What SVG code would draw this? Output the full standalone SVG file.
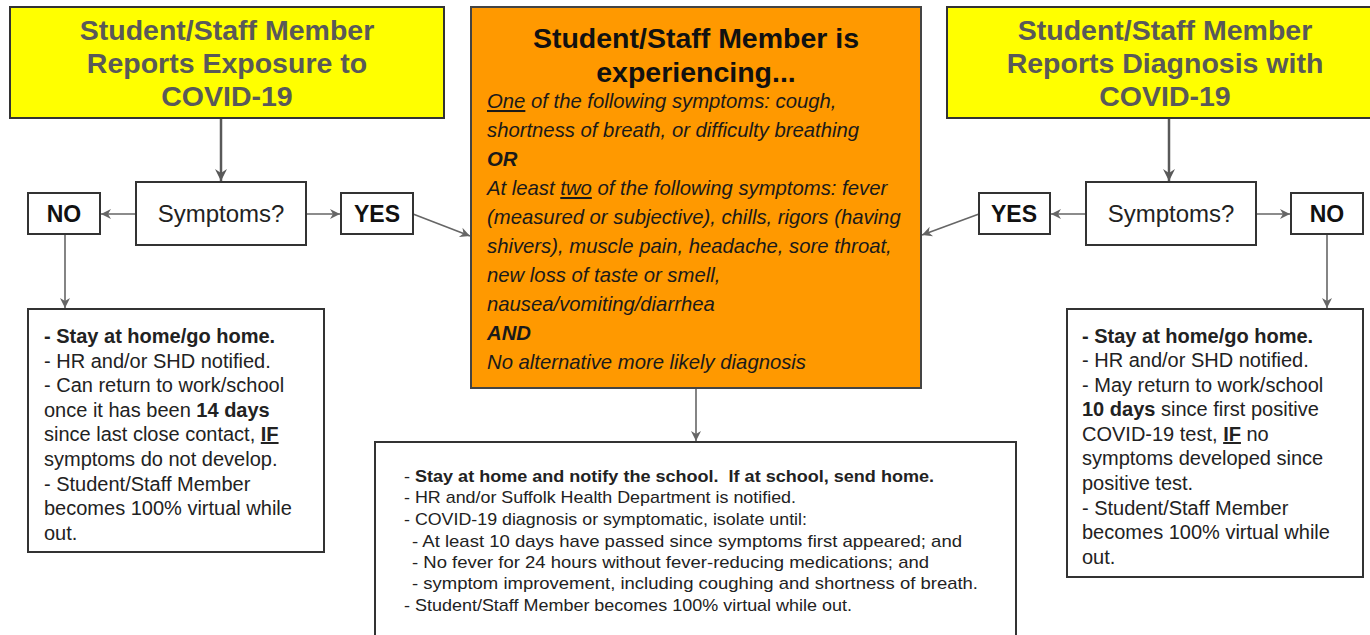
<svg xmlns="http://www.w3.org/2000/svg" width="1370" height="635" viewBox="0 0 1370 635">
<style>
.box{fill:#ffffff;stroke:#333333;stroke-width:2}
.yel{fill:#ffff00;stroke:#333333;stroke-width:2}
.org{fill:#ff9900;stroke:#444444;stroke-width:2}
.ttl{font-family:"Liberation Sans",Arial,sans-serif;font-weight:bold;font-size:28.5px;fill:#595959;text-anchor:middle}
.otl{font-family:"Liberation Sans",Arial,sans-serif;font-weight:bold;font-size:28.5px;fill:#111111;text-anchor:middle}
.oit{font-family:"Liberation Sans",Arial,sans-serif;font-style:italic;font-size:20.3px;fill:#1a1a1a}
.q{font-family:"Liberation Sans",Arial,sans-serif;font-size:24px;fill:#222222;text-anchor:middle}
.yn{font-family:"Liberation Sans",Arial,sans-serif;font-weight:bold;font-size:23px;fill:#111111;text-anchor:middle}
.bt{font-family:"Liberation Sans",Arial,sans-serif;font-size:20px;fill:#222222}
.st{font-family:"Liberation Sans",Arial,sans-serif;font-size:17px;fill:#222222}
.b{font-weight:bold}
.u{text-decoration:underline}
.c1{fill:none;stroke:#595959;stroke-width:2.5}
.c2{fill:none;stroke:#666666;stroke-width:1.6}
</style>
<defs>
<marker id="ah" markerUnits="userSpaceOnUse" markerWidth="14" markerHeight="14" viewBox="0 0 14 14" refX="13" refY="7" orient="auto">
<path d="M1,1 L13,7 L1,13 L5,7 z" fill="#595959"/>
</marker>
<marker id="as" markerUnits="userSpaceOnUse" markerWidth="12" markerHeight="12" viewBox="0 0 12 12" refX="11" refY="6" orient="auto">
<path d="M1,1 L11,6 L1,11 L4,6 z" fill="#666666"/>
</marker>
</defs>
<rect width="1370" height="635" fill="#ffffff"/>

<g id="connectors">
<line class="c1" x1="221" y1="119" x2="221" y2="181" marker-end="url(#ah)"/>
<line class="c1" x1="1169" y1="119" x2="1169" y2="181" marker-end="url(#ah)"/>
<line class="c2" x1="136" y1="214" x2="101" y2="214" marker-end="url(#as)"/>
<line class="c2" x1="306" y1="214" x2="340" y2="214" marker-end="url(#as)"/>
<line class="c2" x1="413" y1="214" x2="470" y2="236" marker-end="url(#as)"/>
<line class="c2" x1="1086" y1="214" x2="1051" y2="214" marker-end="url(#as)"/>
<line class="c2" x1="1256" y1="214" x2="1290" y2="214" marker-end="url(#as)"/>
<line class="c2" x1="979" y1="214" x2="922" y2="235" marker-end="url(#as)"/>
<line class="c2" x1="65" y1="235" x2="65" y2="308" marker-end="url(#as)"/>
<line class="c2" x1="1327" y1="235" x2="1327" y2="308" marker-end="url(#as)"/>
<line class="c2" x1="696" y1="389" x2="696" y2="441" marker-end="url(#as)"/>
</g>

<g id="exposure">
<rect class="yel" x="10" y="7" width="434" height="111"/>
<text class="ttl" x="227" y="40">Student/Staff Member</text>
<text class="ttl" x="227" y="73">Reports Exposure to</text>
<text class="ttl" x="227" y="106">COVID-19</text>
</g>

<g id="diagnosis">
<rect class="yel" x="947" y="7" width="440" height="111"/>
<text class="ttl" x="1165" y="40">Student/Staff Member</text>
<text class="ttl" x="1165" y="73">Reports Diagnosis with</text>
<text class="ttl" x="1165" y="106">COVID-19</text>
</g>

<g id="symptoms-left">
<rect class="box" x="136" y="182" width="170" height="63"/>
<text class="q" x="221" y="222">Symptoms?</text>
</g>
<g id="no-left">
<rect class="box" x="28" y="193" width="72" height="41"/>
<text class="yn" x="64" y="222">NO</text>
</g>
<g id="yes-left">
<rect class="box" x="341" y="193" width="72" height="41"/>
<text class="yn" x="377" y="222">YES</text>
</g>

<g id="symptoms-right">
<rect class="box" x="1086" y="182" width="170" height="63"/>
<text class="q" x="1171" y="222">Symptoms?</text>
</g>
<g id="yes-right">
<rect class="box" x="979" y="193" width="71" height="41"/>
<text class="yn" x="1014" y="222">YES</text>
</g>
<g id="no-right">
<rect class="box" x="1291" y="193" width="72" height="41"/>
<text class="yn" x="1327" y="222">NO</text>
</g>

<g id="experiencing">
<rect class="org" x="471" y="7" width="450" height="381"/>
<text class="otl" x="696" y="48">Student/Staff Member is</text>
<text class="otl" x="696" y="82">experiencing...</text>
<text class="oit" x="487" y="108"><tspan class="u">One</tspan> of the following symptoms: cough,</text>
<text class="oit" x="487" y="137">shortness of breath, or difficulty breathing</text>
<text class="oit b" x="487" y="166">OR</text>
<text class="oit" x="487" y="195">At least <tspan class="u">two</tspan> of the following symptoms: fever</text>
<text class="oit" x="487" y="224">(measured or subjective), chills, rigors (having</text>
<text class="oit" x="487" y="253">shivers), muscle pain, headache, sore throat,</text>
<text class="oit" x="487" y="282">new loss of taste or smell,</text>
<text class="oit" x="487" y="311">nausea/vomiting/diarrhea</text>
<text class="oit b" x="487" y="340">AND</text>
<text class="oit" x="487" y="369">No alternative more likely diagnosis</text>
</g>

<g id="exposure-no-action">
<rect class="box" x="28" y="309" width="296" height="243"/>
<text class="bt b" x="44" y="343">- Stay at home/go home.</text>
<text class="bt" x="44" y="368">- HR and/or SHD notified.</text>
<text class="bt" x="44" y="392">- Can return to work/school</text>
<text class="bt" x="44" y="417">once it has been <tspan class="b">14 days</tspan></text>
<text class="bt" x="44" y="441">since last close contact, <tspan class="b u">IF</tspan></text>
<text class="bt" x="44" y="466">symptoms do not develop.</text>
<text class="bt" x="44" y="491">- Student/Staff Member</text>
<text class="bt" x="44" y="515">becomes 100% virtual while</text>
<text class="bt" x="44" y="540">out.</text>
</g>

<g id="diagnosis-no-action">
<rect class="box" x="1067" y="309" width="296" height="268"/>
<text class="bt b" x="1082" y="343">- Stay at home/go home.</text>
<text class="bt" x="1082" y="367">- HR and/or SHD notified.</text>
<text class="bt" x="1082" y="392">- May return to work/school</text>
<text class="bt" x="1082" y="416"><tspan class="b">10 days</tspan> since first positive</text>
<text class="bt" x="1082" y="441">COVID-19 test, <tspan class="b u">IF</tspan> no</text>
<text class="bt" x="1082" y="465">symptoms developed since</text>
<text class="bt" x="1082" y="490">positive test.</text>
<text class="bt" x="1082" y="515">- Student/Staff Member</text>
<text class="bt" x="1082" y="539">becomes 100% virtual while</text>
<text class="bt" x="1082" y="564">out.</text>
</g>

<g id="isolate-action">
<rect class="box" x="375" y="442" width="641" height="220"/>
<text class="st" x="404" y="482" textLength="530" lengthAdjust="spacingAndGlyphs">- <tspan class="b">Stay at home and notify the school.&#160; If at school, send home.</tspan></text>
<text class="st" x="404" y="503" textLength="392" lengthAdjust="spacingAndGlyphs">- HR and/or Suffolk Health Department is notified.</text>
<text class="st" x="404" y="525" textLength="403" lengthAdjust="spacingAndGlyphs">- COVID-19 diagnosis or symptomatic, isolate until:</text>
<text class="st" x="412" y="547" textLength="550" lengthAdjust="spacingAndGlyphs">- At least 10 days have passed since symptoms first appeared; and</text>
<text class="st" x="412" y="568" textLength="517" lengthAdjust="spacingAndGlyphs">- No fever for 24 hours without fever-reducing medications; and</text>
<text class="st" x="412" y="589" textLength="566" lengthAdjust="spacingAndGlyphs">- symptom improvement, including coughing and shortness of breath.</text>
<text class="st" x="404" y="611" textLength="448" lengthAdjust="spacingAndGlyphs">- Student/Staff Member becomes 100% virtual while out.</text>
</g>
</svg>
